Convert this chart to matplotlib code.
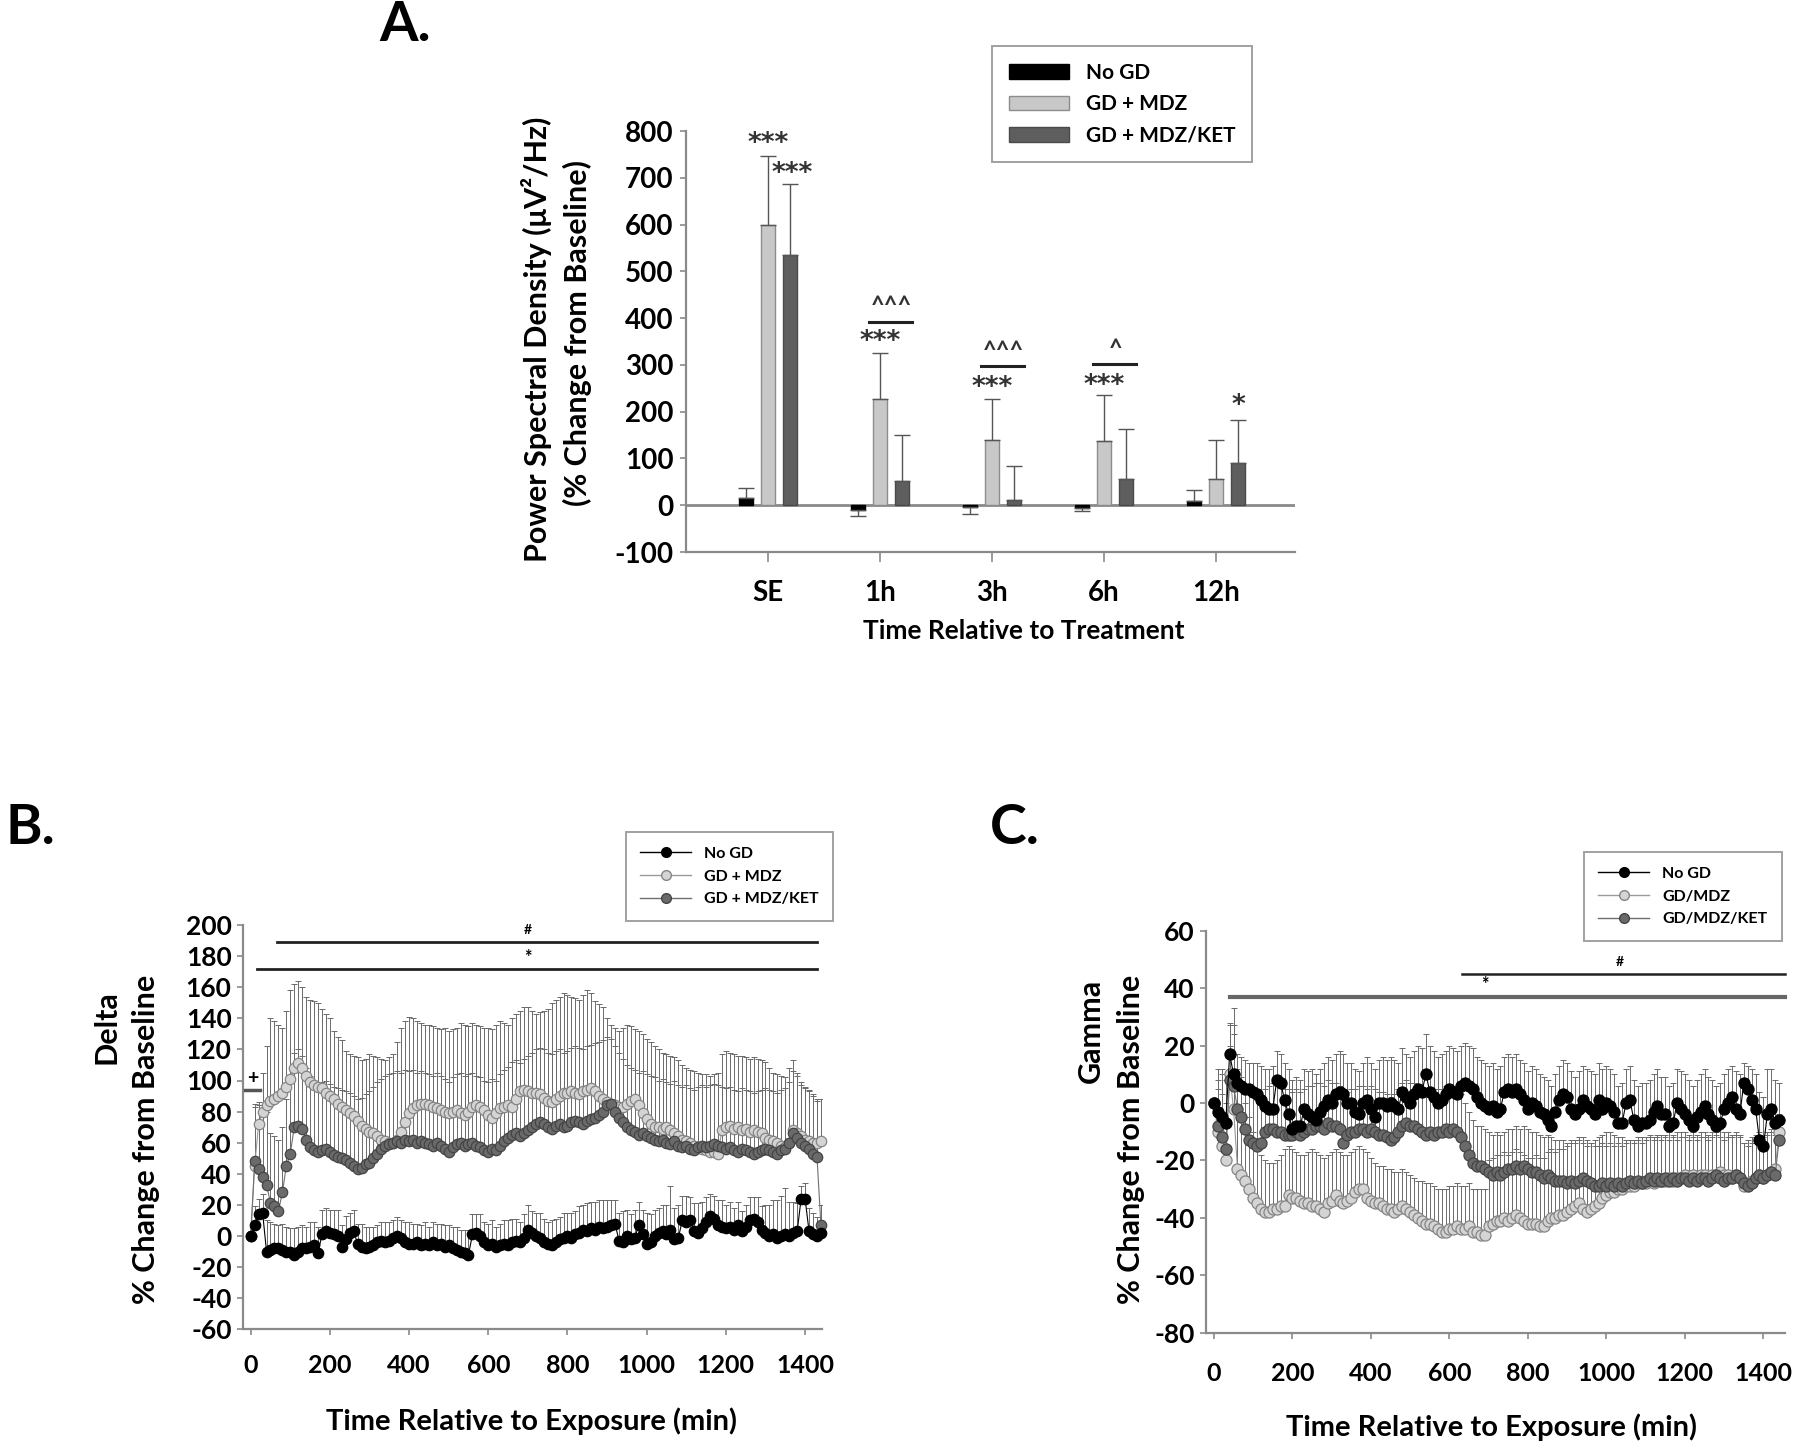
import numpy as np
import matplotlib
matplotlib.use("Agg")
import matplotlib.pyplot as plt
from matplotlib.lines import Line2D
from matplotlib.patches import Patch

plt.rcParams['font.family'] = ['Lato', 'DejaVu Sans']
plt.rcParams['font.weight'] = 'bold'
plt.rcParams['axes.unicode_minus'] = False

# ---------------- Panel A data ----------------
categories = ["SE", "1h", "3h", "6h", "12h"]
a_nogd = [15, -10, -3, -6, 8]
a_nogd_sem = [22, 13, 15, 7, 24]
a_mdz = [600, 228, 140, 137, 57]
a_mdz_sem = [147, 98, 87, 98, 83]
a_ket = [534, 51, 11, 57, 91]
a_ket_sem = [152, 100, 73, 105, 91]

# ---------------- Panel B data (Delta), every 10 min ----------------
times = np.arange(0, 1450, 10)

b_nogd = [
    0, 7, 14, 15, -10, -9, -8, -8, -9, -10,
    -10, -12, -10, -8, -8, -7, -6, -11, 1, 3,
    2, 1, 0, -7, -2, 2, 3, -5, -7, -8,
    -7, -6, -4, -3, -4, -3, -1, 0, -1, -4,
    -5, -5, -4, -6, -5, -6, -4, -6, -5, -7,
    -6, -8, -9, -10, -11, -12, 1, 2, 0, -4,
    -6, -5, -7, -6, -5, -6, -4, -3, -4, -1,
    4, 2, 0, -1, -4, -5, -6, -4, -2, -1,
    0, -1, 1, 2, 4, 3, 5, 4, 6, 5,
    6, 7, 8, -3, -4, 0, -2, -1, 7, 1,
    -5, -4, 0, 2, 3, 1, 4, -2, -1, 10,
    9, 10, 3, 2, 5, 9, 13, 11, 7, 6,
    5, 6, 4, 7, 3, 6, 10, 11, 9, 4,
    2, 0, 1, -1, 0, 1, 0, 2, 3, 24,
    24, 3, 1, 0, 2]
b_nogd_sem = [
    0, 12, 10, 12, 20, 18, 16, 15, 17, 16,
    15, 17, 16, 15, 14, 16, 15, 17, 16, 15,
    15, 16, 17, 14, 15, 13, 14, 13, 15, 14,
    13, 12, 11, 12, 13, 12, 11, 12, 11, 13,
    14, 13, 12, 13, 14, 12, 13, 14, 13, 14,
    13, 14, 15, 14, 15, 16, 13, 12, 14, 13,
    14, 15, 13, 14, 15, 16, 15, 14, 13, 15,
    16, 14, 15, 16, 15, 14, 16, 15, 14, 16,
    15, 16, 15, 17, 16, 18, 17, 18, 17, 18,
    17, 16, 15, 18, 20, 17, 16, 18, 15, 16,
    20, 18, 17, 16, 17, 19, 28, 20, 21, 16,
    17, 15, 18, 19, 17, 16, 14, 15, 16, 17,
    15, 16, 14, 15, 13, 14, 15, 14, 16, 15,
    18, 20, 22, 24, 26, 30, 22, 20, 18, 8,
    10, 15, 14, 12, 6]
b_mdz = [
    0, 45, 72, 80, 84, 87, 88, 90, 92, 96,
    101, 108, 111, 108, 103, 99, 97, 96, 95, 92,
    90, 88, 85, 83, 81, 79, 77, 74, 71, 69,
    67, 66, 64, 62, 61, 60, 60, 62, 67, 73,
    79, 82, 84, 85, 85, 84, 83, 82, 81, 80,
    79, 80, 81, 79, 78, 80, 83, 84, 83, 81,
    78, 76, 79, 82, 83, 84, 83, 88, 93, 94,
    93, 92, 92, 91, 89, 87, 86, 88, 90, 92,
    92, 93, 92, 91, 93, 94, 95, 93, 90, 88,
    86, 85, 84, 83, 83, 85, 87, 88, 84, 79,
    75, 72, 70, 70, 69, 70, 68, 66, 64, 62,
    61, 60, 58, 57, 56, 55, 54, 54, 53, 68,
    70, 71, 69, 70, 68, 69, 67, 68, 67, 66,
    63, 62, 61, 60, 58, 57, 60, 68, 66, 64,
    62, 61, 60, 60, 61]
b_mdz_upper = [
    0, 85, 86, 105, 122, 140, 138, 136, 134, 145,
    158, 162, 164, 160, 154, 152, 151, 150, 146, 143,
    140, 132, 128, 126, 119, 117, 116, 115, 113, 114,
    117, 116, 115, 114, 113, 115, 117, 125, 134, 138,
    141, 140, 138, 137, 136, 136, 135, 134, 133, 134,
    132, 133, 134, 137, 136, 135, 137, 136, 135, 134,
    134, 133, 136, 138, 137, 136, 140, 143, 145, 147,
    147, 145, 143, 144, 145, 146, 150, 152, 154, 156,
    155, 154, 153, 152, 155, 158, 156, 151, 149, 147,
    140, 136, 134, 132, 134, 136, 135, 133, 132, 130,
    127, 125, 122, 120, 118, 117, 116, 115, 113, 110,
    108, 107, 106, 105, 104, 104, 103, 104, 105, 117,
    119, 118, 117, 116, 116, 115, 114, 115, 114, 113,
    112, 108, 105, 104, 103, 102, 108, 113, 105, 97,
    95, 93, 91, 87, 88]
b_ket = [
    0, 48, 43, 38, 33, 21, 19, 16, 28, 45,
    53, 70, 71, 69, 62, 57, 55, 54, 55, 56,
    54, 52, 51, 50, 49, 47, 45, 43, 44, 46,
    47, 50, 53, 56, 58, 59, 60, 61, 60, 62,
    61, 62, 60, 61, 60, 59, 58, 60, 58, 56,
    54, 57, 59, 60, 58, 59, 60, 58, 57, 55,
    54, 56, 55, 58, 61, 63, 65, 66, 64, 66,
    68, 70, 72, 73, 72, 70, 69, 71, 72, 70,
    71, 73, 74, 73, 72, 74, 75, 76, 78, 80,
    84, 85, 80, 76, 73, 70, 68, 67, 65, 66,
    64, 63, 62, 61, 62, 60, 59, 61, 58, 57,
    58, 56, 55, 57, 58, 57, 58, 59, 58, 57,
    56, 57, 55, 54, 56, 55, 54, 53, 54, 55,
    56, 55, 54, 53, 55, 56, 60, 66, 63, 60,
    58, 56, 53, 51, 7]
b_ket_upper = [
    0, 83, 84, 82, 80, 66, 64, 62, 70, 88,
    100, 118, 120, 116, 108, 103, 100, 98, 99, 100,
    98, 96, 95, 94, 93, 92, 90, 88, 89, 91,
    93, 96, 99, 101, 103, 104, 105, 106, 105, 107,
    106, 107, 105, 106, 105, 104, 103, 105, 103, 101,
    99, 102, 104, 105, 103, 104, 105, 103, 102, 100,
    99, 101, 100, 104, 107, 109, 112, 113, 111, 114,
    116, 118, 120, 121, 120, 118, 117, 119, 120, 118,
    119, 121, 122, 121, 120, 122, 123, 124, 125, 126,
    128, 127, 122, 118, 114, 110, 108, 107, 105, 106,
    104, 103, 102, 100, 101, 99, 98, 100, 97, 96,
    97, 95, 94, 96, 97, 96, 97, 98, 97, 96,
    95, 96, 94, 93, 95, 94, 93, 92, 93, 94,
    95, 94, 93, 92, 94, 95, 99, 106, 103, 99,
    96, 94, 90, 88, 20]

# ---------------- Panel C data (Gamma), every 10 min ----------------
c_nogd = [
    0, -3, -5, -7, 17, 10, 7, 6, 5, 5,
    4, 3, 1, -1, -2, -2, 8, 7, 1, -4,
    -9, -8, -8, -2, -4, -5, -6, -3, -1, 1,
    0, 3, 4, 3, 0, 0, -3, -4, 0, 1,
    -2, -5, 0, 0, -1, 0, -1, -2, 4, 2,
    0, 3, 5, 4, 10, 4, 2, 0, 1, 3,
    5, 4, 3, 6, 7, 6, 5, 2, 0, -1,
    -2, -1, -3, -2, 4, 5, 4, 5, 3, 1,
    -2, 0, -1, -3, -4, -6, -8, -3, 1, 3,
    2, -2, -4, -2, 1, -1, -2, -4, 1, -2,
    0, -1, -3, -7, -7, 0, 1, -6, -8, -7,
    -7, -6, -3, -1, -4, -4, -8, -7, 0, -2,
    -4, -6, -8, -5, -3, -1, -4, -6, -8, -7,
    -2, 0, 2, -2, -4, 7, 5, 1, -2, -13,
    -15, -4, -2, -7, -6]
c_nogd_upper = [
    0, 8, 10, 8, 28, 24, 17, 16, 15, 14,
    14, 14, 13, 12, 12, 13, 18, 17, 14, 12,
    8, 9, 8, 12, 11, 12, 10, 12, 14, 16,
    15, 17, 18, 17, 14, 14, 12, 11, 14, 16,
    14, 12, 15, 16, 15, 16, 15, 14, 19, 17,
    16, 18, 20, 19, 24, 20, 18, 16, 17, 18,
    20, 19, 18, 20, 21, 20, 19, 16, 15, 14,
    13, 14, 12, 13, 16, 17, 16, 17, 15, 14,
    11, 13, 12, 10, 9, 8, 6, 10, 13, 15,
    14, 11, 9, 11, 13, 12, 11, 10, 14, 12,
    13, 12, 10, 6, 7, 12, 13, 8, 6, 7,
    7, 8, 10, 12, 9, 9, 6, 7, 12, 11,
    10, 8, 6, 8, 10, 12, 9, 8, 6, 7,
    10, 12, 13, 11, 10, 14, 13, 12, 10, 4,
    2, 12, 12, 8, 7]
c_mdz = [
    0, -10, -15, -20, 10, -2, -23, -25, -27, -30,
    -33, -35, -37, -38, -38, -37, -37, -36, -36, -32,
    -33, -33, -34, -35, -35, -36, -36, -37, -38, -35,
    -34, -32, -34, -35, -34, -33, -31, -30, -30, -33,
    -34, -35, -35, -36, -37, -37, -38, -37, -36, -37,
    -38, -39, -40, -41, -42, -42, -43, -44, -45, -45,
    -44, -44, -43, -44, -44, -43, -45, -45, -46, -46,
    -43, -42, -41, -41, -40, -41, -40, -39, -40, -41,
    -42, -42, -42, -43, -43, -41, -40, -40, -39, -39,
    -38, -37, -36, -35, -37, -38, -37, -36, -35, -33,
    -32, -31, -31, -30, -30, -29, -29, -29, -28, -28,
    -28, -27, -28, -27, -27, -27, -26, -27, -26, -26,
    -25, -26, -25, -26, -25, -25, -26, -25, -25, -24,
    -25, -25, -26, -25, -26, -29, -28, -27, -26, -25,
    -26, -25, -24, -23, -10]
c_mdz_upper = [
    0, 12, 12, 10, 27, 33, 10, 5, 0, -5,
    -10, -15, -18, -20, -21, -21, -20, -18, -16, -15,
    -16, -17, -18, -18, -17, -16, -17, -18, -19, -18,
    -17, -16, -17, -18, -18, -17, -16, -15, -16, -17,
    -19, -21, -22, -22, -23, -23, -24, -24, -23, -24,
    -25, -26, -27, -27, -28, -28, -29, -30, -30, -30,
    -29, -29, -28, -29, -29, -28, -30, -30, -30, -30,
    -20, -19, -18, -18, -17, -18, -17, -16, -17, -18,
    -19, -19, -18, -19, -19, -17, -16, -17, -16, -16,
    -15, -14, -13, -12, -14, -15, -14, -13, -12, -11,
    -10, -10, -11, -12, -12, -13, -13, -13, -12, -12,
    -12, -11, -12, -11, -11, -11, -10, -11, -10, -10,
    -10, -11, -10, -11, -10, -10, -11, -10, -10, -9,
    -10, -10, -11, -10, -11, -14, -13, -12, -11, -10,
    -11, -10, -9, -8, -4]
c_ket = [
    0, -8, -12, -16, 8, 6, -2, -5, -9, -13,
    -14, -15, -14, -10, -9, -9, -10, -10, -11, -11,
    -11, -10, -11, -10, -9, -9, -8, -8, -9, -7,
    -8, -8, -9, -14, -11, -10, -10, -9, -9, -10,
    -9, -10, -11, -11, -12, -13, -12, -10, -8, -7,
    -8, -8, -9, -10, -11, -10, -11, -10, -10, -9,
    -10, -9, -10, -12, -15, -18, -21, -22, -22, -23,
    -24, -25, -24, -25, -24, -23, -23, -22, -23, -22,
    -23, -24, -24, -25, -26, -25, -26, -27, -27, -27,
    -28, -27, -28, -27, -26, -27, -28, -29, -29, -28,
    -29, -28, -29, -28, -29, -28, -27, -28, -27, -28,
    -27, -26, -27, -26, -27, -26, -27, -26, -27, -26,
    -26, -27, -26, -27, -26, -26, -27, -26, -25, -26,
    -27, -26, -26, -25, -26, -28, -29, -28, -26, -25,
    -26, -25, -24, -25, -13]
c_ket_upper = [
    0, 5, 3, 0, 20, 27, 12, 9, 6, 3,
    2, 1, 2, 5, 6, 7, 6, 6, 5, 5,
    4, 5, 4, 5, 6, 6, 7, 7, 6, 8,
    7, 7, 6, 1, 4, 5, 5, 6, 6, 5,
    6, 5, 4, 4, 3, 2, 3, 5, 7, 8,
    7, 7, 6, 5, 4, 5, 4, 5, 5, 6,
    5, 6, 5, 3, 0, -3, -6, -8, -8, -9,
    -10, -11, -10, -11, -10, -9, -9, -8, -9, -8,
    -9, -10, -10, -11, -12, -11, -12, -13, -13, -13,
    -14, -13, -14, -13, -12, -13, -14, -15, -15, -14,
    -15, -14, -15, -14, -15, -14, -13, -14, -13, -14,
    -13, -12, -13, -12, -13, -12, -13, -12, -13, -12,
    -12, -13, -12, -13, -12, -12, -13, -12, -11, -12,
    -13, -12, -12, -11, -12, -14, -15, -14, -12, -11,
    -12, -11, -10, -11, -5]

AXIS_GRAY = "#8a8a8a"
W, H = 1800, 1452

fig = plt.figure(figsize=(18, 14.52), dpi=100)


def px_axes(left, top, right, bottom):
    return fig.add_axes([left / W, 1 - bottom / H, (right - left) / W, (bottom - top) / H])


def style_axes(ax):
    for s in ["top", "right"]:
        ax.spines[s].set_visible(False)
    for s in ["left", "bottom"]:
        ax.spines[s].set_color(AXIS_GRAY)
        ax.spines[s].set_linewidth(1.6)
    ax.tick_params(colors=AXIS_GRAY, labelcolor="black", width=1.2, length=4, direction="out")


# ================= Panel A =================
axA = px_axes(686, 131, 1295, 552)
style_axes(axA)
x = np.arange(len(categories))
bw, off = 0.13, 0.196
sets = [(a_nogd, a_nogd_sem, -off, "#000000", "#000000"),
        (a_mdz, a_mdz_sem, 0.0, "#c8c8c8", "#8c8c8c"),
        (a_ket, a_ket_sem, off, "#5e5e5e", "#4a4a4a")]
for vals, sem, dx, fc, ec in sets:
    vals = np.array(vals, float)
    sem = np.array(sem, float)
    up = np.where(vals >= 0, sem, 0)
    dn = np.where(vals < 0, sem, 0)
    axA.bar(x + dx, vals, bw, color=fc, edgecolor=ec, linewidth=1.0, zorder=2)
    axA.errorbar(x + dx, vals, yerr=[dn, up], fmt="none", ecolor="#555555",
                 elinewidth=1.0, capsize=6, capthick=1.0, zorder=3)
axA.axhline(0, color=AXIS_GRAY, lw=2.0, zorder=1)
axA.set_xlim(-0.732, 4.705)
axA.set_ylim(-100, 800)
axA.set_yticks(range(-100, 801, 100))
axA.set_xticks(x)
axA.set_xticklabels(categories)
axA.tick_params(axis="y", labelsize=20, pad=5)
axA.tick_params(axis="x", labelsize=20, pad=13, length=7)

star_kw = dict(ha="center", va="center", fontsize=19, fontweight="bold", color="#333333",
               family="DejaVu Sans")
axA.text(0, 772, "***", **star_kw)
axA.text(off + 0.02, 709, "***", **star_kw)
axA.text(1, 348, "***", **star_kw)
axA.text(2, 251, "***", **star_kw)
axA.text(3, 255, "***", **star_kw)
axA.text(4 + off, 213, "*", **star_kw)
for cx, ly, lbl in [(1, 392, "^^^"), (2, 297, "^^^"), (3, 301, "^")]:
    axA.plot([cx - 0.1, cx + 0.285], [ly, ly], color="#222222", lw=2.2, zorder=4)
    axA.text(cx + 0.1, ly + 32, lbl, ha="center", va="center", fontsize=17,
             fontweight="bold", color="#333333")

legA = axA.legend(handles=[Patch(facecolor="#000000", edgecolor="#000000", label="No GD"),
                           Patch(facecolor="#c8c8c8", edgecolor="#8c8c8c", label="GD + MDZ"),
                           Patch(facecolor="#5e5e5e", edgecolor="#4a4a4a", label="GD + MDZ/KET")],
                  loc="upper left", bbox_to_anchor=(992 / W, 1 - 46 / H), bbox_transform=fig.transFigure,
                  fontsize=15, frameon=True, fancybox=False, borderaxespad=0, handlelength=2.9,
                  handleheight=0.7, borderpad=0.8, labelspacing=0.55, handletextpad=0.8)
legA.get_frame().set_edgecolor(AXIS_GRAY)
legA.get_frame().set_linewidth(1.4)

fig.text(379 / W, 1 - 25 / H, "A.", fontsize=40, fontweight="bold", ha="left", va="center")
fig.text(537 / W, 1 - 339 / H, "Power Spectral Density (μV²/Hz)", rotation=90, fontsize=22,
         fontweight="bold", ha="center", va="center")
fig.text(577 / W, 1 - 333 / H, "(% Change from Baseline)", rotation=90, fontsize=22,
         fontweight="bold", ha="center", va="center")
fig.text(1024 / W, 1 - 631 / H, "Time Relative to Treatment", fontsize=19, fontweight="bold",
         ha="center", va="center")

# ================= Time course panels =================
series_style = {
    "nogd": dict(color="#000000", mfc="#000000", mec="#000000"),
    "mdz": dict(color="#9a9a9a", mfc="#d4d4d4", mec="#858585"),
    "ket": dict(color="#707070", mfc="#6a6a6a", mec="#454545"),
}


def draw_panel(ax, mean_upper, order, ms):
    for key, mean, upper in mean_upper:
        mean = np.array(mean, float)
        upper = np.array(upper, float)
        ax.errorbar(times, mean, yerr=[np.zeros_like(mean), upper - mean], fmt="none",
                    ecolor="#6a6a6a", elinewidth=0.7, capsize=2.5, capthick=0.7, zorder=1)
    lookup = {k: m for k, m, u in mean_upper}
    for z, key in enumerate(order):
        st = series_style[key]
        ax.plot(times, lookup[key], color=st["color"], lw=0.8, marker="o", ms=ms,
                mfc=st["mfc"], mec=st["mec"], mew=0.9, zorder=3 + z, clip_on=False)


# ---- Panel B ----
axB = px_axes(242.7, 925, 822, 1329.3)
style_axes(axB)
b_nogd_upper = np.array(b_nogd) + np.array(b_nogd_sem)
draw_panel(axB, [("mdz", b_mdz, b_mdz_upper), ("ket", b_ket, b_ket_upper),
                 ("nogd", b_nogd, b_nogd_upper)], ["mdz", "ket", "nogd"], 7.5)
axB.set_xlim(-20.2, 1442.7)
axB.set_ylim(-60, 200)
axB.set_yticks(range(-60, 201, 20))
axB.set_xticks(range(0, 1401, 200))
axB.tick_params(axis="y", labelsize=19, pad=4)
axB.tick_params(axis="x", labelsize=18, pad=14)
axB.plot([66, 1429], [189, 189], color="#222222", lw=2.0, zorder=6)
axB.plot([15, 1429], [172, 172], color="#222222", lw=2.0, zorder=6)
axB.text(699, 197, "#", ha="center", va="center", fontsize=10, fontweight="bold")
axB.text(699, 179, "*", ha="center", va="center", fontsize=13, fontweight="bold")
axB.plot([-14, 24], [94, 94], color="#555555", lw=2.5, zorder=6, clip_on=False)
axB.text(4, 101, "+", ha="center", va="center", fontsize=14, fontweight="bold")

fig.text(6 / W, 1 - 828 / H, "B.", fontsize=40, fontweight="bold", ha="left", va="center")
fig.text(106 / W, 1 - 1027 / H, "Delta", rotation=90, fontsize=22, fontweight="bold",
         ha="center", va="center")
fig.text(146 / W, 1 - 1139 / H, "% Change from Baseline", rotation=90, fontsize=22,
         fontweight="bold", ha="center", va="center")
fig.text(532 / W, 1 - 1421 / H, "Time Relative to Exposure (min)", fontsize=21,
         fontweight="bold", ha="center", va="center")


def series_handles(labels):
    hs = []
    for key, lbl in zip(["nogd", "mdz", "ket"], labels):
        st = series_style[key]
        hs.append(Line2D([0], [0], color=st["color"], lw=1.0, marker="o", ms=7,
                         mfc=st["mfc"], mec=st["mec"], label=lbl))
    return hs


leg_kw = dict(loc="upper left", bbox_transform=fig.transFigure, fontsize=11.5, frameon=True,
              fancybox=False, borderaxespad=0, handlelength=3.2, borderpad=0.9,
              labelspacing=0.55, handletextpad=0.8)
legB = axB.legend(handles=series_handles(["No GD", "GD + MDZ", "GD + MDZ/KET"]),
                  bbox_to_anchor=(626 / W, 1 - 832 / H), **leg_kw)
legB.get_frame().set_edgecolor(AXIS_GRAY)
legB.get_frame().set_linewidth(1.4)

# ---- Panel C ----
axC = px_axes(1205.7, 930.7, 1785, 1332.7)
style_axes(axC)
draw_panel(axC, [("mdz", c_mdz, c_mdz_upper), ("ket", c_ket, c_ket_upper),
                 ("nogd", c_nogd, c_nogd_upper)], ["mdz", "ket", "nogd"], 8)
axC.set_xlim(-21, 1455)
axC.set_ylim(-80, 60)
axC.set_yticks(range(-80, 61, 20))
axC.set_xticks(range(0, 1401, 200))
axC.tick_params(axis="y", labelsize=19, pad=4)
axC.tick_params(axis="x", labelsize=18, pad=17)
axC.plot([631, 1455], [45, 45], color="#222222", lw=1.8, zorder=6, clip_on=False)
axC.plot([41, 1455], [37, 37], color="#666666", lw=3.0, zorder=6, clip_on=False)
axC.text(1034, 49, "#", ha="center", va="center", fontsize=10, fontweight="bold")
axC.text(690, 41.2, "*", ha="center", va="center", fontsize=13, fontweight="bold")

fig.text(990 / W, 1 - 828 / H, "C.", fontsize=40, fontweight="bold", ha="left", va="center")
fig.text(1091 / W, 1 - 1031 / H, "Gamma", rotation=90, fontsize=22, fontweight="bold",
         ha="center", va="center")
fig.text(1131 / W, 1 - 1139 / H, "% Change from Baseline", rotation=90, fontsize=22,
         fontweight="bold", ha="center", va="center")
fig.text(1492 / W, 1 - 1427 / H, "Time Relative to Exposure (min)", fontsize=21,
         fontweight="bold", ha="center", va="center")

legC = axC.legend(handles=series_handles(["No GD", "GD/MDZ", "GD/MDZ/KET"]),
                  bbox_to_anchor=(1584 / W, 1 - 852 / H), **leg_kw)
legC.get_frame().set_edgecolor(AXIS_GRAY)
legC.get_frame().set_linewidth(1.4)

fig.savefig("out.png", dpi=100, facecolor="white")
